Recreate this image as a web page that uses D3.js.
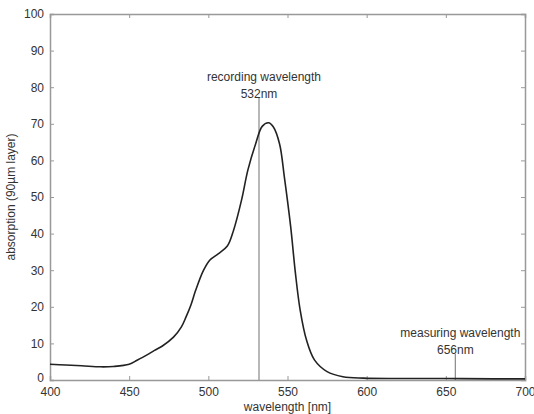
<!DOCTYPE html>
<html>
<head>
<meta charset="utf-8">
<script src="https://cdn.jsdelivr.net/npm/d3@7"></script>
<style>
  body { margin: 0; background: #fff; }
  text { font-family: "Liberation Sans", Arial, sans-serif; fill: #333; }
</style>
</head>
<body>
<div id="chart"></div>
<script>
//spectrum
const wavelengths = [400, 410, 420, 432, 440, 450, 455, 461, 466, 471, 478, 483, 486, 489, 492, 497, 501, 506, 512, 516, 521, 525, 530, 534, 538, 541, 545, 548, 552, 555, 558, 562, 567, 575, 585, 598, 620, 650, 680, 700];
const absorption = [4.3, 4.1, 3.9, 3.6, 3.7, 4.3, 5.4, 6.8, 8.1, 9.3, 11.7, 14.5, 17.3, 20.5, 24.5, 30, 32.8, 34.4, 36.6, 41, 49.2, 57.4, 64.7, 69.3, 70.3, 69.2, 64.5, 55.5, 41.9, 29.2, 19.1, 10.9, 5.5, 2.3, 0.9, 0.5, 0.4, 0.4, 0.3, 0.3];

const xTicks = [400, 450, 500, 550, 600, 650, 700];
const yTicks = [0, 10, 20, 30, 40, 50, 60, 70, 80, 90, 100];

//annotations: wavelength, two text lines
const markers = [
  { wl: 532, lines: ["recording wavelength", "532nm"], top: 98 },
  { wl: 656, lines: ["measuring wavelength", "656nm"], top: 354 }
];

const width = 534;
const height = 414;
const margin = { left: 50, right: 9, top: 14, bottom: 34 };

const svg = d3.select("#chart")
  .append("svg")
  .attr("width", width)
  .attr("height", height);

const x = d3.scaleLinear().domain([400, 700]).range([margin.left, width - margin.right]);
const y = d3.scaleLinear().domain([0, 100]).range([height - margin.bottom, margin.top]);

const axisColor = "#999";

//axes with inward ticks
const xAxis = svg.append("g")
  .attr("transform", `translate(0,${y(0)})`)
  .call(d3.axisBottom(x).tickValues(xTicks).tickSize(-4).tickPadding(7));
const xTop = svg.append("g")
  .attr("transform", `translate(0,${y(100)})`)
  .call(d3.axisTop(x).tickValues(xTicks).tickSize(-4).tickFormat(""));
const yAxis = svg.append("g")
  .attr("transform", `translate(${x(400)},0)`)
  .call(d3.axisLeft(y).tickValues(yTicks).tickSize(-4).tickPadding(6));
const yRight = svg.append("g")
  .attr("transform", `translate(${x(700)},0)`)
  .call(d3.axisRight(y).tickValues(yTicks).tickSize(-4).tickFormat(""));

[xAxis, xTop, yAxis, yRight].forEach(g => {
  g.select(".domain").attr("stroke", axisColor).attr("stroke-width", 1.5);
  g.selectAll(".tick line").attr("stroke", axisColor);
  g.selectAll(".tick text").attr("font-size", 12).attr("fill", "#333")
    .attr("font-family", "Liberation Sans, Arial, sans-serif");
});

//lift the 0 label a little so it clears the 400 label
yAxis.selectAll(".tick text").filter(d => d === 0).attr("dy", "0.1em");

//marker lines
markers.forEach(m => {
  svg.append("line")
    .attr("x1", x(m.wl)).attr("x2", x(m.wl))
    .attr("y1", m.top).attr("y2", y(0))
    .attr("stroke", "#888")
    .attr("stroke-width", 1.2);
  m.lines.forEach((t, i) => {
    svg.append("text")
      .attr("x", i === 0 ? x(m.wl) + 5 : x(m.wl))
      .attr("y", m.top - 17 + i * 17)
      .attr("text-anchor", "middle")
      .attr("font-size", 12)
      .text(t);
  });
});

//the spectrum
const data = wavelengths.map((w, i) => ({ w: w, a: absorption[i] }));
svg.append("path")
  .datum(data)
  .attr("fill", "none")
  .attr("stroke", "#222")
  .attr("stroke-width", 1.6)
  .attr("d", d3.line().x(d => x(d.w)).y(d => y(d.a)).curve(d3.curveCatmullRom.alpha(0.5)));

//axis labels
svg.append("text")
  .attr("x", (x(400) + x(700)) / 2)
  .attr("y", 411)
  .attr("text-anchor", "middle")
  .attr("font-size", 12)
  .text("wavelength [nm]");

svg.append("text")
  .attr("transform", `translate(15,${(y(0) + y(100)) / 2}) rotate(-90)`)
  .attr("text-anchor", "middle")
  .attr("font-size", 12)
  .text("absorption (90µm layer)");
</script>
</body>
</html>
